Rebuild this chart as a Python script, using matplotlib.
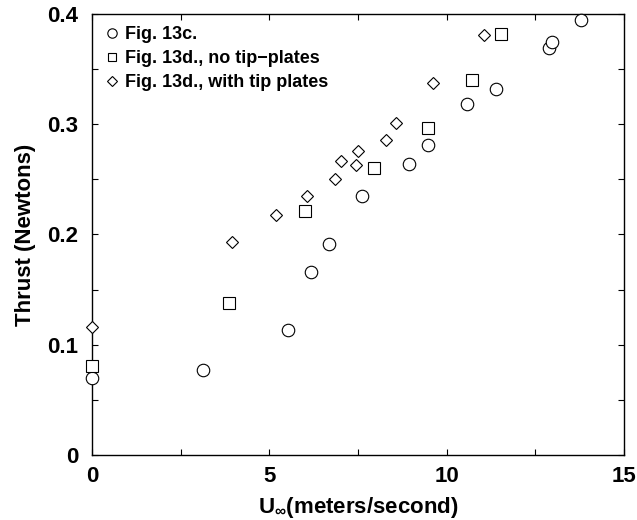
import matplotlib
matplotlib.use("Agg")
from matplotlib import pyplot as plt
from matplotlib.ticker import MultipleLocator

plt.rcParams['font.family'] = ['Liberation Sans', 'DejaVu Sans']
plt.rcParams['font.weight'] = 'bold'
plt.rcParams['mathtext.fontset'] = 'custom'
plt.rcParams['mathtext.rm'] = 'Liberation Sans:bold'
plt.rcParams['mathtext.bf'] = 'Liberation Sans:bold'

# Fig. 13c.
circ_x = [0, 3.13, 5.54, 6.17, 6.69, 7.62, 8.93, 9.48, 10.56, 11.40, 12.88, 12.96, 13.78]
circ_y = [0.070, 0.077, 0.113, 0.166, 0.191, 0.235, 0.264, 0.281, 0.318, 0.332, 0.369, 0.375, 0.395]
# Fig. 13d., no tip-plates
sq_x = [0, 3.85, 6.01, 7.95, 9.46, 10.71, 11.53]
sq_y = [0.081, 0.138, 0.221, 0.260, 0.297, 0.340, 0.382]
# Fig. 13d., with tip plates
dia_x = [0, 3.95, 5.18, 6.06, 6.85, 7.01, 7.44, 7.51, 8.28, 8.58, 9.61, 11.05]
dia_y = [0.116, 0.193, 0.218, 0.235, 0.250, 0.267, 0.263, 0.276, 0.286, 0.301, 0.337, 0.381]

fig = plt.figure(figsize=(6.37, 5.2), dpi=100)
ax = fig.add_axes([0.1444, 0.125, 0.8352, 0.8481])

ax.plot(circ_x, circ_y, 'o', ms=9, mfc='white', mec='black', mew=0.8,
        label='Fig. 13c.', clip_on=False, zorder=3)
ax.plot(sq_x, sq_y, 's', ms=8, mfc='white', mec='black', mew=0.8,
        label='Fig. 13d., no tip\u2212plates', clip_on=False, zorder=3)
ax.plot(dia_x, dia_y, 'D', ms=6.5, mfc='white', mec='black', mew=0.8,
        label='Fig. 13d., with tip plates', clip_on=False, zorder=3)

ax.set_xlim(0, 15)
ax.set_ylim(0, 0.4)
ax.xaxis.set_major_locator(MultipleLocator(5))
ax.xaxis.set_minor_locator(MultipleLocator(2.5))
ax.yaxis.set_minor_locator(MultipleLocator(0.05))
ax.set_yticks([0, 0.1, 0.2, 0.3, 0.4])
ax.set_yticklabels(['0', '0.1', '0.2', '0.3', '0.4'])
ax.tick_params(which='both', direction='in', top=True, right=True, width=0.8)
ax.tick_params(which='major', length=4.5, labelsize=16)
ax.tick_params(which='minor', length=4)
ax.tick_params(axis='y', which='major', pad=10)
ax.tick_params(axis='x', which='major', pad=8)
for s in ax.spines.values():
    s.set_linewidth(1.0)

ax.set_xlabel(r'U$_{\infty}$(meters/second)', fontsize=16, fontweight='bold', labelpad=6)
ax.set_ylabel('Thrust (Newtons)', fontsize=16, fontweight='bold', labelpad=8)

ax.legend(loc='upper left', bbox_to_anchor=(0.028, 0.973), frameon=False,
          fontsize=13, markerscale=0.75, handlelength=0.6, handletextpad=0.4,
          labelspacing=0.4, numpoints=1, borderaxespad=0, borderpad=0)

fig.savefig('out.png', dpi=100)
